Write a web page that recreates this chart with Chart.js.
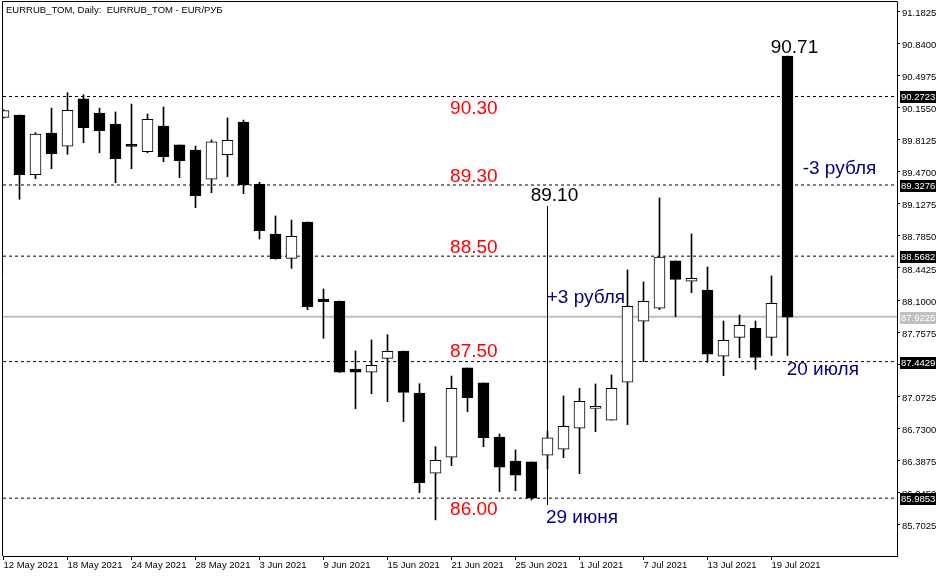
<!DOCTYPE html>
<html>
<head>
<meta charset="utf-8">
<script src="https://cdn.jsdelivr.net/npm/chart.js@4.4.0/dist/chart.umd.min.js"></script>
<style>
  html, body { margin: 0; padding: 0; background: #fff; }
  canvas { display: block; }
</style>
</head>
<body>
<canvas id="chart" width="946" height="576"></canvas>
<script>
// ---------- Data (EURRUB_TOM daily) ----------
const dates = [
  "12 May 2021", "13 May 2021", "14 May 2021", "17 May 2021", "18 May 2021",
  "19 May 2021", "20 May 2021", "21 May 2021", "24 May 2021", "25 May 2021",
  "26 May 2021", "27 May 2021", "28 May 2021", "31 May 2021", "1 Jun 2021",
  "2 Jun 2021", "3 Jun 2021", "4 Jun 2021", "7 Jun 2021", "8 Jun 2021",
  "9 Jun 2021", "10 Jun 2021", "11 Jun 2021", "14 Jun 2021", "15 Jun 2021",
  "16 Jun 2021", "17 Jun 2021", "18 Jun 2021", "21 Jun 2021", "22 Jun 2021",
  "23 Jun 2021", "24 Jun 2021", "25 Jun 2021", "28 Jun 2021", "29 Jun 2021",
  "30 Jun 2021", "1 Jul 2021", "2 Jul 2021", "5 Jul 2021", "6 Jul 2021",
  "7 Jul 2021", "8 Jul 2021", "9 Jul 2021", "12 Jul 2021", "13 Jul 2021",
  "14 Jul 2021", "15 Jul 2021", "16 Jul 2021", "19 Jul 2021", "20 Jul 2021",
];

const open = [
  90.050, 90.075, 89.438, 89.883, 89.741, 90.246, 90.096, 89.979, 89.755, 89.683,
  89.957, 89.755, 89.701, 89.389, 89.651, 90.000, 89.338, 88.805, 88.545, 88.933,
  88.111, 88.087, 87.364, 87.329, 87.478, 87.556, 87.108, 86.251, 86.422, 87.375,
  87.215, 86.638, 86.382, 86.372, 86.443, 86.507, 86.731, 86.943, 86.817, 87.222,
  87.873, 88.012, 88.517, 88.300, 88.207, 87.500, 87.702, 87.798, 87.702, 90.704,
];
const high = [
  90.130, 90.075, 89.886, 90.149, 90.313, 90.291, 90.149, 90.107, 90.192, 90.085,
  90.160, 89.755, 89.744, 89.808, 90.043, 90.021, 89.357, 88.997, 88.954, 88.933,
  88.218, 88.090, 87.556, 87.674, 87.730, 87.556, 87.207, 86.535, 87.289, 87.375,
  87.215, 86.670, 86.500, 86.372, 86.700, 87.076, 87.158, 87.204, 87.300, 88.421,
  88.293, 89.189, 88.517, 88.805, 88.453, 87.876, 87.940, 87.876, 88.357, 90.704,
];
const low = [
  90.040, 89.175, 89.395, 89.502, 89.655, 89.779, 89.672, 89.352, 89.502, 89.672,
  89.576, 89.406, 89.086, 89.246, 89.416, 89.235, 88.751, 88.535, 88.437, 87.997,
  87.692, 87.327, 86.940, 87.100, 87.015, 86.802, 86.044, 85.753, 86.332, 86.908,
  86.535, 86.055, 86.065, 85.966, 86.300, 86.417, 86.247, 86.695, 86.817, 86.770,
  87.442, 87.997, 87.922, 88.178, 87.436, 87.293, 87.485, 87.359, 87.508, 87.508,
];
const close = [
  90.121, 89.438, 89.872, 89.662, 90.125, 89.939, 89.907, 89.608, 89.739, 90.029,
  89.630, 89.587, 89.214, 89.787, 89.805, 89.328, 88.840, 88.541, 88.780, 88.029,
  88.082, 87.329, 87.329, 87.404, 87.553, 87.115, 86.151, 86.390, 87.158, 87.058,
  86.631, 86.315, 86.230, 85.984, 86.628, 86.753, 87.019, 86.947, 87.158, 88.033,
  88.087, 88.559, 88.321, 88.332, 87.521, 87.670, 87.831, 87.487, 88.065, 87.916,
];

// horizontal levels drawn on the chart
const levels = [90.2723, 89.3276, 88.5682, 87.4429, 85.9853];
const bidLevel = 87.9225;

// right price scale ticks
const yTicks = [
  91.1825, 90.8400, 90.4975, 90.1550, 89.8125, 89.4700, 89.1275, 88.7850, 88.4425,
  88.1000, 87.7575, 87.4150, 87.0725, 86.7300, 86.3875, 86.0450, 85.7025,
];

// vertical move line (29 June, from 86 up to 89.10)
const moveIndex = 34;
const moveFrom = 85.913;
const moveTo = 89.104;

// text labels: text, bar index (left edge), price (baseline)
const notes = [
  { text: "90.30", i: 27.91, p: 90.085, color: "#ff0000" },
  { text: "89.30", i: 27.91, p: 89.360, color: "#ff0000" },
  { text: "88.50", i: 27.91, p: 88.602, color: "#ff0000" },
  { text: "87.50", i: 27.91, p: 87.492, color: "#ff0000" },
  { text: "86.00", i: 27.91, p: 85.806, color: "#ff0000" },
  { text: "89.10", i: 32.95, p: 89.162, color: "#000000" },
  { text: "90.71", i: 47.95, p: 90.740, color: "#000000" },
  { text: "+3 рубля", i: 33.95, p: 88.065, color: "#000080" },
  { text: "-3 рубля", i: 49.95, p: 89.450, color: "#000080" },
  { text: "29 июня", i: 33.90, p: 85.720, color: "#000080" },
  { text: "20 июля", i: 48.95, p: 87.300, color: "#000080" },
];

const X_MIN = -0.03125;
const X_MAX = X_MIN + 894 / 16;
const Y_MIN = 85.368;
const Y_MAX = 91.2807;

const FONT = `"Liberation Sans", Arial, sans-serif`;
Chart.defaults.font.family = FONT;
Chart.defaults.font.size = 9.5;
Chart.defaults.color = "#000";

const idx = dates.map((d, i) => i);
const isUp = (i) => close[i] >= open[i];

// ---------- Plugin: frame, title, price tags, text notes ----------
const mtDecor = {
  id: "mtDecor",
  beforeDraw(chart) {
    const { ctx, width, height } = chart;
    ctx.save();
    ctx.fillStyle = "#fff";
    ctx.fillRect(0, 0, width, height);
    ctx.restore();
  },
  afterDatasetsDraw(chart) {
    const { ctx, scales: { x, y } } = chart;
    ctx.save();
    ctx.font = `19px ${FONT}`;
    ctx.textAlign = "left";
    ctx.textBaseline = "alphabetic";
    notes.forEach((n) => {
      ctx.fillStyle = n.color;
      ctx.fillText(n.text, x.getPixelForValue(n.i), y.getPixelForValue(n.p));
    });
    ctx.restore();
  },
  afterDraw(chart) {
    const { ctx, chartArea: a, scales: { y } } = chart;
    ctx.save();
    // left & top frame lines
    ctx.strokeStyle = "#000";
    ctx.lineWidth = 1;
    ctx.beginPath();
    ctx.moveTo(2.5, a.bottom);
    ctx.lineTo(2.5, 1.5);
    ctx.lineTo(a.right + 0.5, 1.5);
    ctx.stroke();

    // title
    ctx.fillStyle = "#000";
    ctx.font = `9.5px ${FONT}`;
    ctx.textBaseline = "alphabetic";
    ctx.fillText("EURRUB_TOM, Daily:  EURRUB_TOM - EUR/РУБ", 6, 13);

    // price tags on the right scale
    const tag = (v, bg) => {
      const py = Math.round(y.getPixelForValue(v));
      ctx.fillStyle = bg;
      ctx.fillRect(a.right + 3, py - 5, 36, 12);
      ctx.fillStyle = "#fff";
      ctx.textBaseline = "middle";
      ctx.fillText(v.toFixed(4), a.right + 4, py + 1);
    };
    levels.forEach((v) => tag(v, "#000"));
    tag(bidLevel, "#c0c0c0");
    ctx.restore();
  },
};

// ---------- Candlestick chart (floating bars) ----------
const ctx = document.getElementById("chart").getContext("2d");
const chart = new Chart(ctx, {
  type: "bar",
  data: {
    datasets: [
      {
        label: "body",
        order: 0,
        grouped: false,
        data: idx.map((i) => ({ x: i, y: [open[i], close[i]] })),
        backgroundColor: (c) => (isUp(c.dataIndex) ? "#ffffff" : "#000000"),
        borderColor: "#000",
        borderWidth: 1,
        borderSkipped: false,
        barThickness: 11,
        minBarLength: 2,
      },
      {
        label: "wick",
        order: 1,
        grouped: false,
        data: idx.map((i) => ({ x: i, y: [low[i], high[i]] })),
        backgroundColor: "#000",
        borderWidth: 0,
        barThickness: 1,
      },
      {
        type: "line",
        label: "move",
        order: 2,
        data: [{ x: moveIndex, y: moveFrom }, { x: moveIndex, y: moveTo }],
        borderColor: "#000",
        borderWidth: 1,
        pointRadius: 0,
      },
      ...levels.map((v) => ({
        type: "line",
        order: 3,
        data: [{ x: X_MIN, y: v }, { x: X_MAX, y: v }],
        borderColor: "#000",
        borderWidth: 1,
        borderDash: [3, 3],
        pointRadius: 0,
      })),
      {
        type: "line",
        label: "bid",
        order: 4,
        data: [{ x: X_MIN, y: bidLevel }, { x: X_MAX, y: bidLevel }],
        borderColor: "#c0c0c0",
        borderWidth: 2,
        pointRadius: 0,
      },
    ],
  },
  options: {
    responsive: false,
    animation: false,
    events: [],
    layout: { padding: { left: 3, top: 2, right: 0, bottom: 0 } },
    plugins: {
      legend: { display: false },
      tooltip: { enabled: false },
    },
    scales: {
      x: {
        type: "linear",
        position: "bottom",
        min: X_MIN,
        max: X_MAX,
        offset: false,
        grid: { drawOnChartArea: false, drawTicks: true, tickLength: 4, color: "#000", offset: false },
        border: { display: true, color: "#000", width: 1 },
        ticks: {
          align: "start",
          padding: 0,
          maxRotation: 0,
          autoSkip: false,
          color: "#000",
          callback: (v) => dates[v] || "",
        },
        afterBuildTicks: (s) => {
          s.ticks = idx.filter((i) => i % 4 === 0).map((i) => ({ value: i }));
        },
        afterFit: (s) => {
          s.height = 20;
          s.paddingLeft = 0;
          s.paddingRight = 0;
        },
      },
      y: {
        type: "linear",
        position: "right",
        min: Y_MIN,
        max: Y_MAX,
        grid: { drawOnChartArea: false, drawTicks: true, tickLength: 3, color: "#000" },
        border: { display: true, color: "#000", width: 1 },
        ticks: {
          padding: 2,
          labelOffset: 2,
          autoSkip: false,
          color: "#000",
          callback: (v) => Number(v).toFixed(4),
        },
        afterBuildTicks: (s) => {
          s.ticks = yTicks.map((v) => ({ value: v }));
        },
        afterFit: (s) => {
          s.width = 49;
          s.paddingTop = 0;
          s.paddingBottom = 0;
        },
      },
    },
  },
  plugins: [mtDecor],
});
</script>
</body>
</html>
